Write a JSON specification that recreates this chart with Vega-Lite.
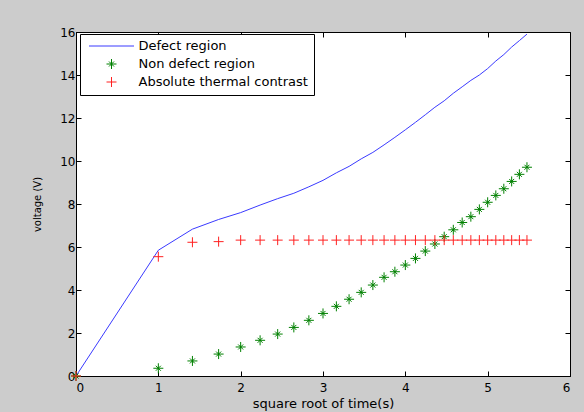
{
  "$schema": "https://vega.github.io/schema/vega-lite/v6.json",
  "width": 494,
  "height": 344,
  "autosize": "none",
  "padding": {"left": 76, "top": 32, "right": 14, "bottom": 36},
  "background": "#cccccc",
  "config": {
    "font": "DejaVu Sans",
    "view": {"fill": "white", "stroke": "black", "strokeWidth": 1},
    "axis": {
      "grid": false,
      "domainColor": "black",
      "tickColor": "black",
      "labelColor": "black",
      "titleColor": "black",
      "labelFont": "DejaVu Sans",
      "labelFontSize": 12,
      "titleFont": "DejaVu Sans",
      "titleFontWeight": "normal",
      "tickSize": -5
    },
    "legend": {
      "orient": "none",
      "legendX": 4,
      "legendY": 2,
      "fillColor": "white",
      "strokeColor": "black",
      "strokeWidth": 1,
      "cornerRadius": 0,
      "padding": 5.5,
      "rowPadding": 3,
      "labelFont": "DejaVu Sans",
      "labelFontSize": 13,
      "labelColor": "black",
      "labelOffset": 20.5,
      "symbolOffset": 19.5,
      "labelLimit": 400,
      "symbolSize": 100,
      "symbolStrokeWidth": 1
    }
  },
  "data": {
    "values": [
      {"t": 0, "Defect region": 0, "Non defect region": 0, "Absolute thermal contrast": 0},
      {"t": 1, "Defect region": 5.85, "Non defect region": 0.36, "Absolute thermal contrast": 5.55},
      {"t": 1.4142, "Defect region": 6.83, "Non defect region": 0.7, "Absolute thermal contrast": 6.22},
      {"t": 1.7321, "Defect region": 7.28, "Non defect region": 1.02, "Absolute thermal contrast": 6.25},
      {"t": 2, "Defect region": 7.6, "Non defect region": 1.35, "Absolute thermal contrast": 6.32},
      {"t": 2.2361, "Defect region": 7.95, "Non defect region": 1.66, "Absolute thermal contrast": 6.32},
      {"t": 2.4495, "Defect region": 8.25, "Non defect region": 1.95, "Absolute thermal contrast": 6.32},
      {"t": 2.6458, "Defect region": 8.5, "Non defect region": 2.26, "Absolute thermal contrast": 6.32},
      {"t": 2.8284, "Defect region": 8.8, "Non defect region": 2.59, "Absolute thermal contrast": 6.32},
      {"t": 3, "Defect region": 9.1, "Non defect region": 2.91, "Absolute thermal contrast": 6.32},
      {"t": 3.1623, "Defect region": 9.45, "Non defect region": 3.24, "Absolute thermal contrast": 6.32},
      {"t": 3.3166, "Defect region": 9.75, "Non defect region": 3.57, "Absolute thermal contrast": 6.32},
      {"t": 3.4641, "Defect region": 10.1, "Non defect region": 3.89, "Absolute thermal contrast": 6.32},
      {"t": 3.6056, "Defect region": 10.4, "Non defect region": 4.23, "Absolute thermal contrast": 6.32},
      {"t": 3.7417, "Defect region": 10.75, "Non defect region": 4.59, "Absolute thermal contrast": 6.32},
      {"t": 3.873, "Defect region": 11.1, "Non defect region": 4.85, "Absolute thermal contrast": 6.32},
      {"t": 4, "Defect region": 11.45, "Non defect region": 5.16, "Absolute thermal contrast": 6.32},
      {"t": 4.1231, "Defect region": 11.8, "Non defect region": 5.47, "Absolute thermal contrast": 6.32},
      {"t": 4.2426, "Defect region": 12.15, "Non defect region": 5.81, "Absolute thermal contrast": 6.32},
      {"t": 4.3589, "Defect region": 12.5, "Non defect region": 6.14, "Absolute thermal contrast": 6.32},
      {"t": 4.4721, "Defect region": 12.8, "Non defect region": 6.48, "Absolute thermal contrast": 6.32},
      {"t": 4.5826, "Defect region": 13.15, "Non defect region": 6.8, "Absolute thermal contrast": 6.32},
      {"t": 4.6904, "Defect region": 13.45, "Non defect region": 7.14, "Absolute thermal contrast": 6.32},
      {"t": 4.7958, "Defect region": 13.75, "Non defect region": 7.41, "Absolute thermal contrast": 6.32},
      {"t": 4.899, "Defect region": 14.0, "Non defect region": 7.75, "Absolute thermal contrast": 6.32},
      {"t": 5, "Defect region": 14.3, "Non defect region": 8.08, "Absolute thermal contrast": 6.32},
      {"t": 5.099, "Defect region": 14.65, "Non defect region": 8.4, "Absolute thermal contrast": 6.32},
      {"t": 5.1962, "Defect region": 14.95, "Non defect region": 8.71, "Absolute thermal contrast": 6.32},
      {"t": 5.2915, "Defect region": 15.3, "Non defect region": 9.05, "Absolute thermal contrast": 6.32},
      {"t": 5.3852, "Defect region": 15.6, "Non defect region": 9.38, "Absolute thermal contrast": 6.32},
      {"t": 5.4772, "Defect region": 15.9, "Non defect region": 9.71, "Absolute thermal contrast": 6.32}
    ]
  },
  "transform": [
    {"fold": ["Defect region", "Non defect region", "Absolute thermal contrast"], "as": ["series", "v"]}
  ],
  "layer": [
    {
      "transform": [{"filter": "datum.series === 'Defect region'"}],
      "mark": {"type": "line", "strokeWidth": 1},
      "encoding": {
        "x": {"field": "t", "type": "quantitative", "scale": {"domain": [0, 6], "nice": false},
              "axis": {"orient": "bottom", "values": [0, 1, 2, 3, 4, 5, 6], "format": "d", "title": "square root of time(s)", "titleFontSize": 13, "titlePadding": 4, "labelPadding": 11}},
        "y": {"field": "v", "type": "quantitative", "scale": {"domain": [0, 16], "nice": false},
              "axis": {"orient": "left", "values": [0, 2, 4, 6, 8, 10, 12, 14, 16], "format": "d", "title": "voltage (V)", "titleFontSize": 10, "titlePadding": 17, "labelPadding": 6}},
        "color": {"field": "series", "type": "nominal",
                  "scale": {"domain": ["Defect region", "Non defect region", "Absolute thermal contrast"], "range": ["#3a3aff", "#008000", "#ff2020"]},
                  "legend": {"title": null}}
      }
    },
    {
      "transform": [{"filter": "datum.series === 'Non defect region'"}],
      "mark": {"type": "point", "filled": false, "strokeWidth": 1, "size": 100, "opacity": 1},
      "encoding": {
        "x": {"field": "t", "type": "quantitative", "axis": {"orient": "top", "values": [0, 1, 2, 3, 4, 5, 6], "labels": false, "title": null, "domain": false}},
        "y": {"field": "v", "type": "quantitative", "axis": {"orient": "right", "values": [0, 2, 4, 6, 8, 10, 12, 14, 16], "labels": false, "title": null, "domain": false}},
        "color": {"field": "series", "type": "nominal", "legend": {"title": null}},
        "shape": {"field": "series", "type": "nominal",
                  "scale": {"domain": ["Defect region", "Non defect region", "Absolute thermal contrast"],
                            "range": ["M-4.5,0L4.5,0", "M-1,0L1,0M0,-1L0,1M-0.5,-0.5L0.5,0.5M-0.5,0.5L0.5,-0.5", "M-1,0L1,0M0,-1L0,1"]},
                  "legend": {"title": null}}
      }
    },
    {
      "transform": [{"filter": "datum.series === 'Absolute thermal contrast'"}],
      "mark": {"type": "point", "filled": false, "strokeWidth": 1, "size": 100, "opacity": 1},
      "encoding": {
        "x": {"field": "t", "type": "quantitative", "axis": null},
        "y": {"field": "v", "type": "quantitative", "axis": null},
        "color": {"field": "series", "type": "nominal", "legend": {"title": null}},
        "shape": {"field": "series", "type": "nominal", "legend": {"title": null}}
      }
    }
  ],
  "resolve": {"axis": {"x": "independent", "y": "independent"}}
}
